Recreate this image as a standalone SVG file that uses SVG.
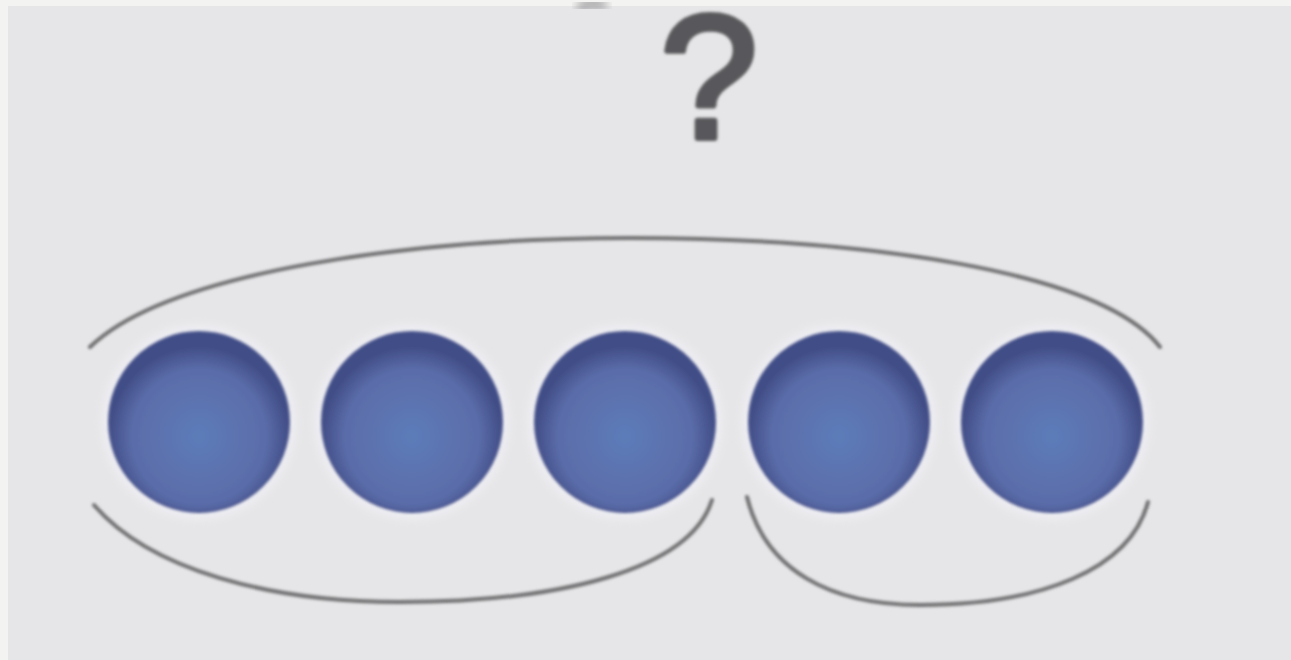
<svg xmlns="http://www.w3.org/2000/svg" width="1291" height="660" viewBox="0 0 1291 660">
  <defs>
    <radialGradient id="ball" cx="50%" cy="58%" r="50%">
      <stop offset="0%" stop-color="#5c7cb9"/>
      <stop offset="75%" stop-color="#5a6ca9"/>
      <stop offset="100%" stop-color="#414d86"/>
    </radialGradient>
    <filter id="soft" x="-10%" y="-10%" width="120%" height="120%">
      <feGaussianBlur stdDeviation="1.5"/>
    </filter>
    <filter id="halo" x="-20%" y="-20%" width="140%" height="140%">
      <feGaussianBlur stdDeviation="5"/>
    </filter>
  </defs>
  <style>
    .arc { fill: none; stroke: #6e6e70; stroke-width: 4; stroke-linecap: round; }
    .ball { fill: url(#ball); stroke: #46518a; stroke-width: 2; }
    .glow { fill: #efeff4; }
    .q { font-family: "Liberation Sans", Arial, sans-serif; font-size: 176px; fill: #58585b; stroke: #58585b; stroke-width: 6; stroke-linejoin: round; }
  </style>
  <rect x="0" y="0" width="1291" height="660" fill="#f3f3f1"/>
  <rect x="8" y="6" width="1283" height="654" fill="#e6e6e8"/>

  <path d="M578 8 Q592 0 606 6" fill="none" stroke="#8a8a8c" stroke-width="7" filter="url(#halo)"/>

  <g id="question">
    <text class="q" x="709" y="138" text-anchor="middle" filter="url(#soft)">?</text>
  </g>

  <g id="connectors" filter="url(#soft)">
    <path class="arc" d="M90 347 C170 270 420 238 630 238 C860 238 1100 270 1160 347"/>
    <path class="arc" d="M94 505 C150 570 270 602 400 602 C560 602 690 570 712 500"/>
    <path class="arc" d="M747 497 C765 570 830 605 920 605 C1040 605 1130 570 1148 502"/>
  </g>

  <g id="halos" filter="url(#halo)">
    <circle class="glow" cx="199" cy="422" r="97"/>
    <circle class="glow" cx="412" cy="422" r="97"/>
    <circle class="glow" cx="625" cy="422" r="97"/>
    <circle class="glow" cx="839" cy="422" r="97"/>
    <circle class="glow" cx="1052" cy="422" r="97"/>
  </g>

  <g id="ball1" filter="url(#soft)"><circle class="ball" cx="199" cy="422" r="90"/></g>
  <g id="ball2" filter="url(#soft)"><circle class="ball" cx="412" cy="422" r="90"/></g>
  <g id="ball3" filter="url(#soft)"><circle class="ball" cx="625" cy="422" r="90"/></g>
  <g id="ball4" filter="url(#soft)"><circle class="ball" cx="839" cy="422" r="90"/></g>
  <g id="ball5" filter="url(#soft)"><circle class="ball" cx="1052" cy="422" r="90"/></g>
</svg>
